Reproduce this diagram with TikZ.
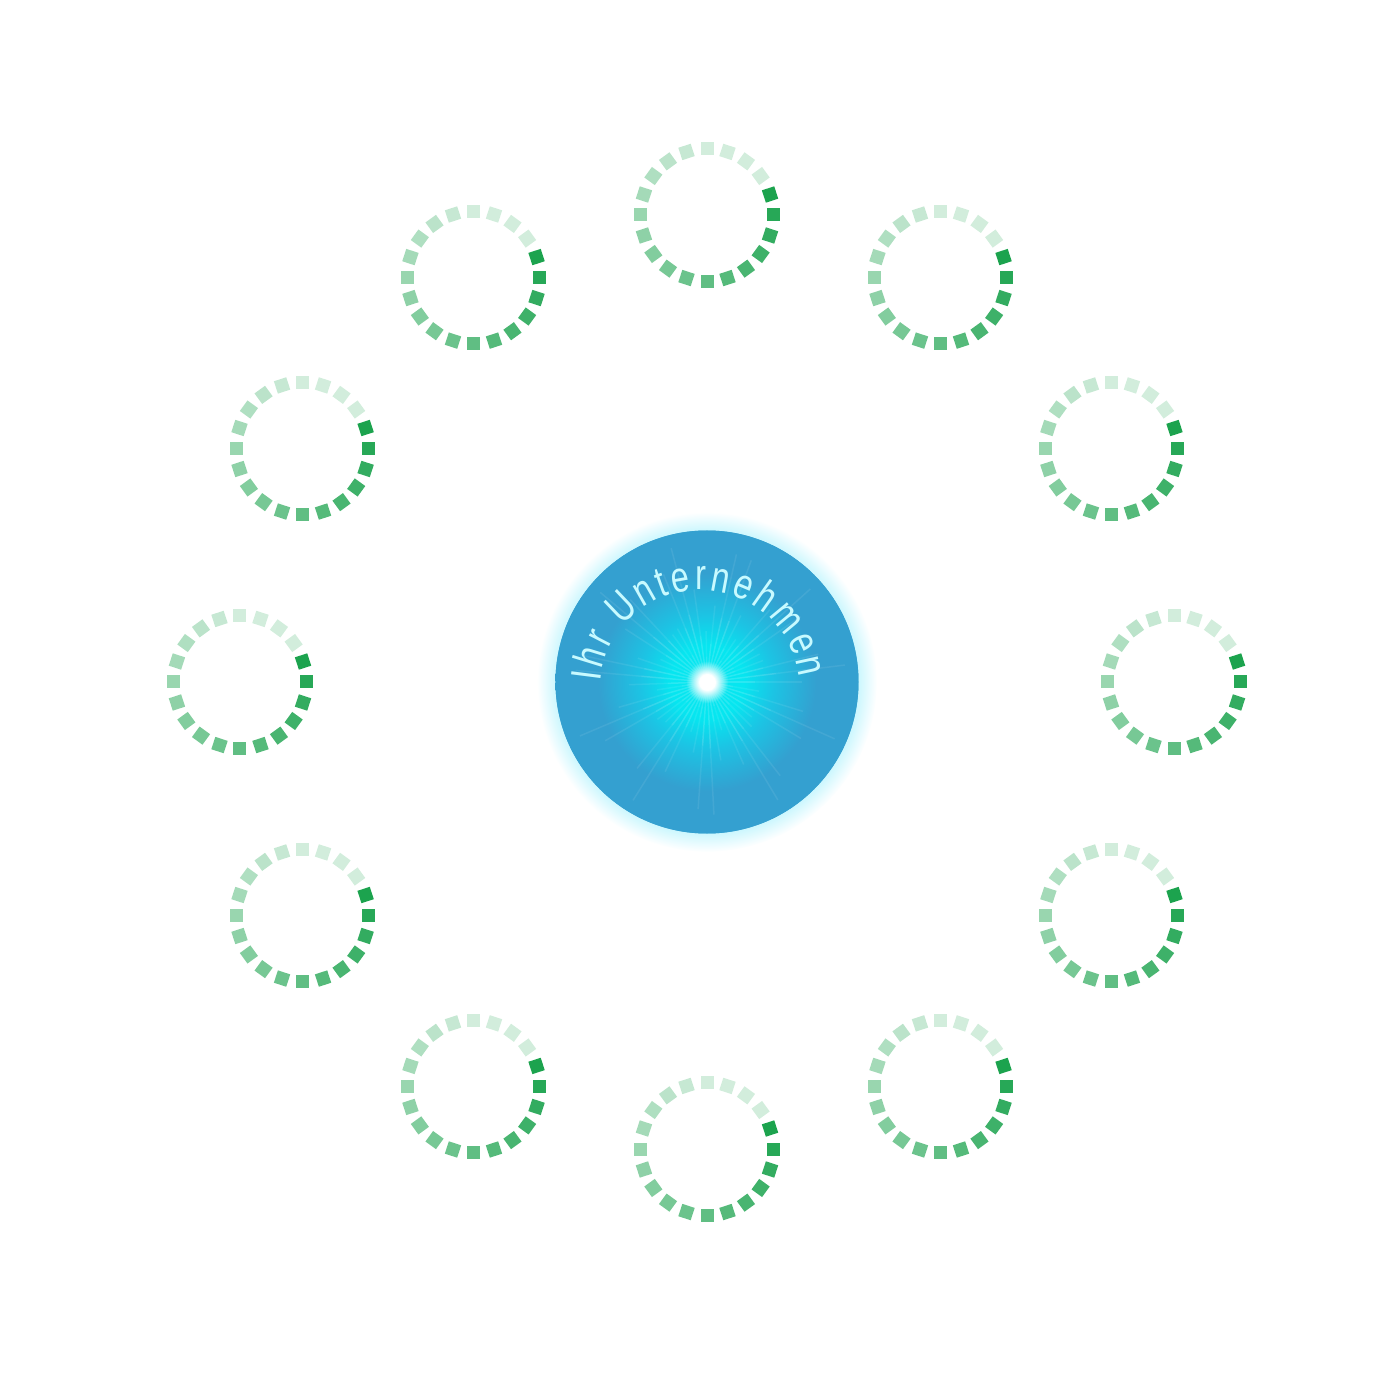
\documentclass[tikz,border=0pt]{standalone}
\usepackage{fontspec}
\setmainfont{Liberation Sans}
\newfontfamily\labelfont[FakeStretch=0.76]{Liberation Sans}
\definecolor{ringgreen}{RGB}{28,163,78}
\definecolor{discblue}{RGB}{52,160,208}
\definecolor{disccyan}{RGB}{6,230,240}
\definecolor{discmid}{RGB}{28,196,228}
\definecolor{glowcyan}{RGB}{0,215,250}
\colorlet{halocol}{glowcyan!22!white}
\definecolor{labelcyan}{RGB}{200,250,255}
\pgfdeclareradialshading{discshade}{\pgfpoint{0bp}{0bp}}{color(0bp)=(white); color(1.3bp)=(white); color(3.5bp)=(disccyan); color(6bp)=(disccyan); color(11bp)=(discmid); color(18bp)=(discblue); color(25bp)=(discblue); color(50bp)=(discblue)}
\pgfdeclareradialshading{haloshade}{\pgfpoint{0bp}{0bp}}{color(0bp)=(halocol); color(22bp)=(halocol); color(25bp)=(white); color(50bp)=(white)}
\tikzset{
  halo/.style={circle, minimum size=340pt, inner sep=0pt, shade, shading=haloshade},
  ray/.style={draw=white, opacity=0.08, line width=1.5pt},
  disc/.style={circle, minimum size=303pt, inner sep=0pt, shade, shading=discshade},
  discrim/.style={draw=discblue, line width=1pt},
  lettr/.style={anchor=base, inner sep=0pt, text=labelcyan,
    font=\labelfont\fontsize{43pt}{50pt}\selectfont},
}
\begin{document}
\begin{tikzpicture}[x=1pt,y=1pt]
\useasboundingbox (-707,-718) rectangle (693,682);
% outer glow and central disc
\node[halo] (glow) at (0,0) {};
\node[disc] (core) at (0,0) {};
\draw[discrim] (core.center) circle (151);
\begin{scope}
  \clip (core.center) circle (151);
  \foreach \a in {0,7,...,353} {
    \pgfmathsetmacro\L{95+45*sin(11*\a)}
    \draw[ray] (core.center) -- ++(\a:\L);
    \draw[ray] (core.center) -- ++(\a:0.5*\L);
  }
\end{scope}
% curved label
\coordinate (tc) at (-7,-8);
\foreach \t/\c [count=\i] in {172.70/I,162.91/h,152.60/r,133.56/U,119.61/n,109.82/t,100.03/e,89.73/r,79.42/n,67.03/e,54.64/h,39.65/m,24.67/e,12.27/n} {
  \node[lettr, rotate=\t-90] (ch\i) at ([shift={(tc)}]\t:100) {\c};
}
% dashed rings
\foreach \a [count=\i] in {0,30,...,330} {
  \coordinate (ring\i) at (\a:467);
  \begin{scope}[shift={(ring\i)}]
    \foreach \k in {0,...,19} {
      \pgfmathtruncatemacro\p{max(20,100-5*\k)}
      \fill[ringgreen!\p!white, rotate={18-18*\k}] (59.8,-6.5) rectangle (72.8,6.5);
    }
  \end{scope}
}
\end{tikzpicture}
\end{document}
